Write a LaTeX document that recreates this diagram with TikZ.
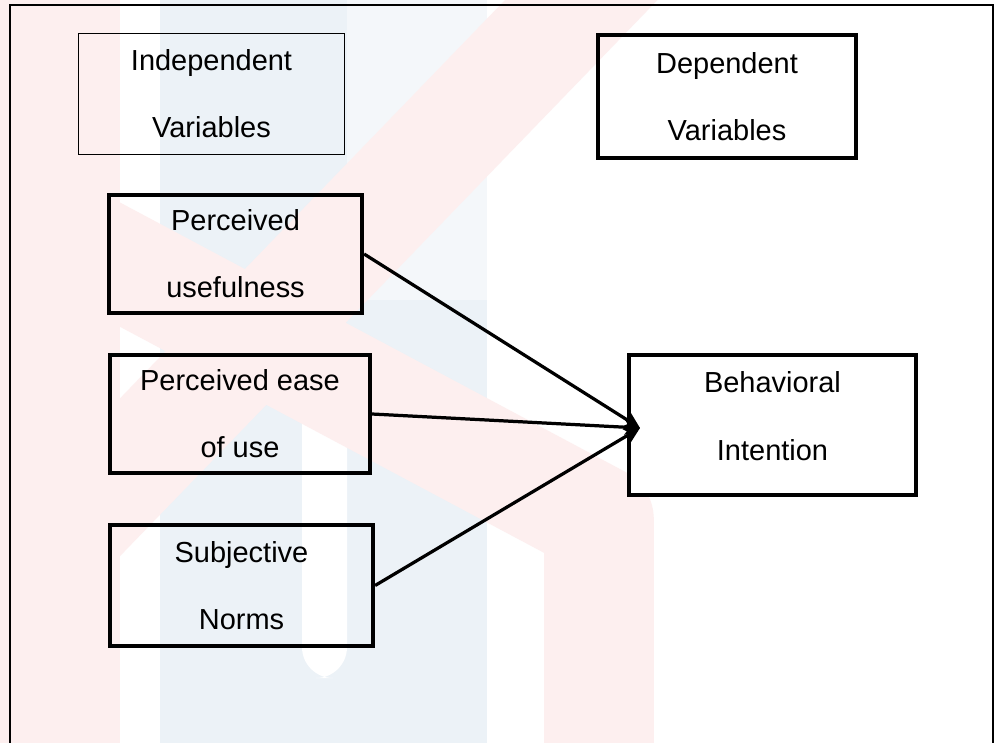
\documentclass[tikz,border=0pt]{standalone}
\usepackage{fontspec}
\setmainfont{Liberation Sans}
\usepackage{xcolor}
\usepackage{tikz}
\usetikzlibrary{positioning, arrows.meta}

\definecolor{wmpink}{RGB}{253,239,239}
\definecolor{wmblue}{RGB}{236,242,247}
\definecolor{wmpale}{RGB}{244,247,250}

\begin{document}
\begin{tikzpicture}[
    x=0.025cm, y=-0.025cm,
    var box/.style={draw, line width=2.8pt, align=center, inner sep=0pt,
        font=\fontsize{20.6}{47.7}\selectfont},
    arrow/.style={-{Stealth[length=11pt, width=11pt]}, line width=2.3pt}
]

% page and watermark
\useasboundingbox (0,0) rectangle (996,743);
\fill[white] (0,0) rectangle (996,743);
\begin{scope}
\clip (0,0) rectangle (996,743);
\fill[wmblue] (160,0) rectangle (487,743);
\fill[wmpale] (347,0) rectangle (487,300);
\fill[white, rounded corners=22] (302,300) rectangle (347,678);
\fill[wmpink] (0,0) rectangle (120,743);
\draw[wmpink, line width=78pt] (620,-40) -- (40,560);
\draw[wmpink, line width=78pt, line join=round] (-20,190) -- (599,520) -- (599,780);
\end{scope}
\draw[line width=1.9pt] (10,743) -- (10,5) -- (993,5) -- (993,743);

% boxes
\node[var box, line width=1pt, minimum width=6.65cm, minimum height=3.03cm] (indep) at (211.5,94) {Independent\\Variables};
\node[var box, minimum width=6.45cm, minimum height=3.08cm] (dep) at (727,96.5) {Dependent\\Variables};

\node[var box, minimum width=6.33cm, minimum height=2.95cm] (pu) at (235.5,254) {Perceived\\usefulness};
\node[var box, minimum width=6.5cm, minimum height=2.95cm] (peou) at (240,414) {Perceived ease\\of use};
\node[var box, minimum width=6.58cm, minimum height=3.03cm] (sn) at (241.5,585.5) {Subjective\\Norms};

\node[var box, fill=white, text depth=0.45cm, minimum width=7.18cm, minimum height=3.5cm] (bi) at (772.5,425) {Behavioral\\Intention};
\coordinate (tip) at (640,428);

% paths
\draw[arrow] (pu.east) -- (tip);
\draw[arrow] (peou.east) -- (tip);
\draw[arrow] (sn.east) -- (tip);

\end{tikzpicture}
\end{document}
